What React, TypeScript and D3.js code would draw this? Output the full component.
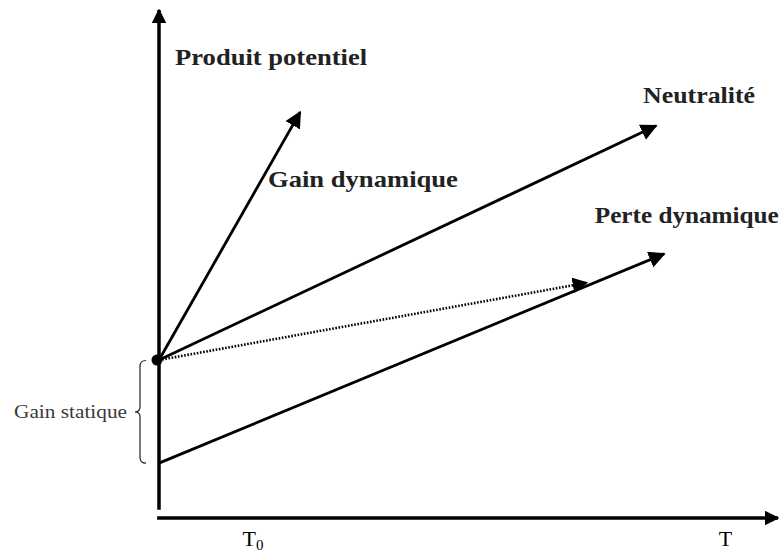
import React, { useRef, useEffect } from "react";
import * as d3 from "d3";

// conceptual units: x = time (0..100), y = produit (0..100)
const origin = [0, 31.1];
const gainTip = [22.8, 79.9];
const neutralTip = [80.3, 77.2];
const dottedTip = [69.1, 46.3];
const perteStart = [0, 10.8];
const perteTip = [81.6, 52.0];
const braceRange = [31.0, 10.8];
const t0Pos = 15.2;
const tPos = 91.5;

const labels = [
  { text: "Produit potentiel", at: [2.6, 89.2], len: 192 },
  { text: "Neutralité", at: [78.2, 81.6], len: 112 },
  { text: "Gain dynamique", at: [17.6, 65.2], len: 190 },
  { text: "Perte dynamique", at: [70.4, 58.1], len: 184 },
];

const W = 781;
const H = 554;

const App = () => {
  const svgRef = useRef(null);

  useEffect(() => {
    const svg = d3.select(svgRef.current);
    svg.selectAll("*").remove();

    const x = d3.scaleLinear().domain([0, 100]).range([159, 778]);
    const y = d3.scaleLinear().domain([0, 100]).range([518, 10]);

    const defs = svg.append("defs");
    const mk = (id, size) =>
      defs
        .append("marker")
        .attr("id", id)
        .attr("viewBox", "0 0 10 10")
        .attr("refX", 9)
        .attr("refY", 5)
        .attr("markerWidth", size)
        .attr("markerHeight", size)
        .attr("markerUnits", "strokeWidth")
        .attr("orient", "auto")
        .append("path")
        .attr("d", "M0,0 L10,5 L0,10 Z")
        .attr("fill", "#000");
    mk("head", 4.2);
    mk("headSmall", 6);

    const line = d3
      .line()
      .x((d) => x(d[0]))
      .y((d) => y(d[1]));

    // axes
    svg
      .append("path")
      .attr("d", line([[0, 1.6], [0, 100]]))
      .attr("stroke", "#000")
      .attr("stroke-width", 3.5)
      .attr("marker-end", "url(#head)");
    svg
      .append("path")
      .attr("d", line([[-0.3, 0], [100, 0]]))
      .attr("stroke", "#000")
      .attr("stroke-width", 3.5)
      .attr("marker-end", "url(#head)");

    const solid = [
      [origin, gainTip],
      [origin, neutralTip],
      [perteStart, perteTip],
    ];
    solid.forEach((seg) => {
      svg
        .append("path")
        .attr("d", line(seg))
        .attr("stroke", "#000")
        .attr("stroke-width", 2.8)
        .attr("fill", "none")
        .attr("marker-end", "url(#headSmall)");
    });

    svg
      .append("path")
      .attr("d", line([origin, dottedTip]))
      .attr("stroke", "#000")
      .attr("stroke-width", 2.6)
      .attr("stroke-dasharray", "1.6,1.6")
      .attr("fill", "none")
      .attr("marker-end", "url(#headSmall)");

    svg
      .append("circle")
      .attr("cx", x(origin[0]) - 2)
      .attr("cy", y(origin[1]))
      .attr("r", 5.5)
      .attr("fill", "#000");

    // brace
    const bx = x(0) - 19;
    const top = y(braceRange[0]);
    const bot = y(braceRange[1]);
    const mid = (top + bot) / 2;
    const p = d3.path();
    p.moveTo(bx + 6, top);
    p.quadraticCurveTo(bx, top, bx, top + 6);
    p.lineTo(bx, mid - 5);
    p.quadraticCurveTo(bx, mid, bx - 5, mid);
    p.quadraticCurveTo(bx, mid, bx, mid + 5);
    p.lineTo(bx, bot - 6);
    p.quadraticCurveTo(bx, bot, bx + 6, bot);
    svg
      .append("path")
      .attr("d", p.toString())
      .attr("stroke", "#222")
      .attr("stroke-width", 1.2)
      .attr("fill", "none");

    svg
      .append("text")
      .attr("x", 14)
      .attr("y", mid + 6)
      .attr("font-family", "Liberation Serif, serif")
      .attr("font-size", 18)
      .attr("textLength", 113)
      .attr("lengthAdjust", "spacingAndGlyphs")
      .attr("fill", "#3a3a3a")
      .text("Gain statique");

    svg
      .selectAll("text.lbl")
      .data(labels)
      .join("text")
      .attr("class", "lbl")
      .attr("x", (d) => x(d.at[0]))
      .attr("y", (d) => y(d.at[1]))
      .attr("font-family", "Liberation Serif, serif")
      .attr("font-weight", "bold")
      .attr("font-size", 24)
      .attr("textLength", (d) => d.len)
      .attr("lengthAdjust", "spacingAndGlyphs")
      .attr("fill", "#222")
      .text((d) => d.text);

    const t0 = svg
      .append("text")
      .attr("x", x(t0Pos))
      .attr("y", 546)
      .attr("font-family", "Liberation Serif, serif")
      .attr("font-size", 22)
      .attr("text-anchor", "middle");
    t0.append("tspan").text("T");
    t0.append("tspan").attr("font-size", 15).attr("dy", 4).text("0");

    svg
      .append("text")
      .attr("x", x(tPos))
      .attr("y", 546)
      .attr("font-family", "Liberation Serif, serif")
      .attr("font-size", 22)
      .attr("text-anchor", "middle")
      .text("T");
  }, []);

  return (
    <svg
      ref={svgRef}
      width={W}
      height={H}
      style={{ position: "absolute", left: 0, top: 0, background: "#fff" }}
    ></svg>
  );
};

export default App;
